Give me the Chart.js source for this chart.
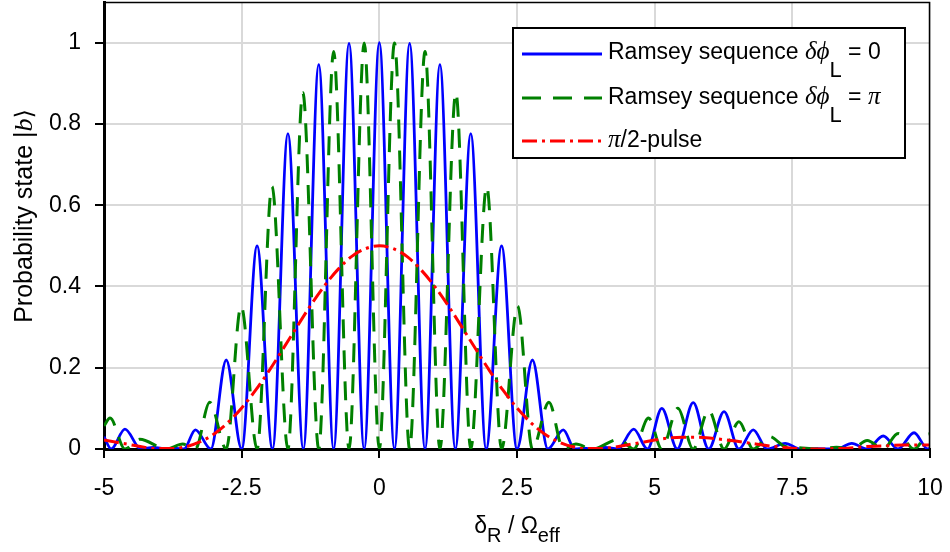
<!DOCTYPE html>
<html>
<head>
<meta charset="utf-8">
<script src="https://cdn.jsdelivr.net/npm/chart.js@4.4.1/dist/chart.umd.min.js"></script>
<style>
  html, body { margin: 0; padding: 0; background: #fff; }
</style>
</head>
<body>
<canvas id="chart" width="950" height="552"></canvas>
<script>
// detuning delta_R / Omega_eff and probability
const ramsey0X = [-5.00, -4.87, -4.62, -4.33, -4.10, -3.87, -3.72, -3.55, -3.34, -3.06, -2.78, -2.50, -2.22, -1.94, -1.66, -1.38, -1.10, -0.83, -0.55, -0.275, 0,
  0.275, 0.55, 0.83, 1.10, 1.38, 1.66, 1.94, 2.22, 2.50, 2.78, 3.06, 3.34, 3.55, 3.72, 3.87, 4.10, 4.33, 4.62, 4.87, 5.13,
  5.41, 5.70, 5.98, 6.26, 6.53, 6.79, 7.04, 7.37, 7.65, 7.94, 8.30, 8.58, 8.86, 9.15, 9.42, 9.71, 9.96, 10];
const ramsey0Y = [0.030, 0, 0.049, 0, 0.004, 0, 0.002, 0, 0.047, 0, 0.219, 0, 0.500, 0, 0.776, 0, 0.946, 0, 0.998, 0, 1.000,
  0, 0.998, 0, 0.946, 0, 0.776, 0, 0.500, 0, 0.219, 0, 0.047, 0, 0.002, 0, 0.004, 0, 0.049, 0, 0.100,
  0, 0.114, 0, 0.092, 0, 0.047, 0, 0.014, 0, 0.001, 0, 0.014, 0, 0.032, 0, 0.040, 0, 0.002];

const ramseyPiX = [-5.00, -4.89, -4.62, -4.35, -3.87, -3.57, -3.34, -3.08, -2.78, -2.51, -2.22, -1.95, -1.66, -1.39, -1.10, -0.83, -0.55, -0.275, 0,
  0.275, 0.55, 0.83, 1.10, 1.39, 1.66, 1.95, 2.22, 2.51, 2.78, 3.08, 3.34, 3.57, 3.87, 4.35, 4.62, 4.89, 5.13, 5.42, 5.70,
  5.98, 6.26, 6.53, 6.79, 7.08, 7.37, 7.62, 7.94, 8.30, 8.58, 8.86, 9.15, 9.42, 9.71, 9.98, 10];
const ramseyPiY = [0.057, 0.076, 0, 0.024, 0, 0.012, 0, 0.115, 0, 0.352, 0, 0.646, 0, 0.877, 0, 0.978, 0, 0.999, 0,
  0.999, 0, 0.978, 0, 0.877, 0, 0.646, 0, 0.352, 0, 0.115, 0, 0.012, 0, 0.024, 0, 0.076, 0, 0.100, 0,
  0.095, 0, 0.067, 0, 0.031, 0.006, 0.003, 0, 0.004, 0, 0.021, 0, 0.038, 0, 0.037, 0.036];

const pulseX = [-5, -4.75, -4.5, -4.25, -4, -3.75, -3.5, -3.25, -3, -2.75, -2.5, -2.25, -2, -1.75, -1.5, -1.25, -1, -0.75, -0.5, -0.25,
  0, 0.25, 0.5, 0.75, 1, 1.25, 1.5, 1.75, 2, 2.25, 2.5, 2.75, 3, 3.25, 3.5, 3.75, 4, 4.25, 4.5, 4.75,
  5, 5.25, 5.5, 5.75, 6, 6.25, 6.5, 6.75, 7, 7.25, 7.5, 7.75, 8, 8.25, 8.5, 8.75, 9, 9.25, 9.5, 9.75, 10];
const pulseY = [0.022, 0.016, 0.010, 0.004, 0.001, 0.001, 0.006, 0.018, 0.037, 0.065, 0.101, 0.144, 0.193, 0.246, 0.300, 0.353, 0.401, 0.442, 0.474, 0.493,
  0.500, 0.493, 0.474, 0.442, 0.401, 0.353, 0.300, 0.246, 0.193, 0.144, 0.101, 0.065, 0.037, 0.018, 0.006, 0.001, 0.001, 0.004, 0.010, 0.016,
  0.022, 0.027, 0.029, 0.029, 0.027, 0.023, 0.019, 0.014, 0.009, 0.005, 0.002, 0.000, 0.000, 0.001, 0.002, 0.005, 0.007, 0.008, 0.010, 0.010, 0.010];

const xTicks = [-5, -2.5, 0, 2.5, 5, 7.5, 10];
const xTickLabels = ['-5', '-2.5', '0', '2.5', '5', '7.5', '10'];
const yTicks = [0, 0.2, 0.4, 0.6, 0.8, 1];
const yTickLabels = ['0', '0.2', '0.4', '0.6', '0.8', '1'];

const SANS = '"Liberation Sans", Arial, sans-serif';
const SERIF_IT = 'italic 25px "Liberation Serif", "DejaVu Serif", serif';

function toPoints(xs, ys) {
  return xs.map((x, i) => ({ x: x, y: ys[i] }));
}

// draw a row of text pieces (font, vertical shift) starting at x
function drawRuns(ctx, runs, x, y, align) {
  let total = 0;
  runs.forEach(r => { ctx.font = r.font; total += ctx.measureText(r.text).width; });
  let cx = align === 'center' ? x - total / 2 : x;
  runs.forEach(r => {
    ctx.font = r.font;
    ctx.fillText(r.text, cx, y + (r.dy || 0));
    cx += ctx.measureText(r.text).width;
  });
}

const decorations = {
  id: 'decorations',
  afterDraw(chart) {
    const ctx = chart.ctx;
    const area = chart.chartArea;
    ctx.save();

    // top and right frame
    ctx.strokeStyle = '#000';
    ctx.lineWidth = 1.5;
    ctx.beginPath();
    ctx.moveTo(area.left, area.top + 0.5);
    ctx.lineTo(area.right - 0.5, area.top + 0.5);
    ctx.lineTo(area.right - 0.5, area.bottom);
    ctx.stroke();

    ctx.fillStyle = '#000';
    ctx.textAlign = 'left';
    ctx.textBaseline = 'alphabetic';

    // x axis title
    const main = '23px ' + SANS;
    const sub = '20px ' + SANS;
    drawRuns(ctx, [
      { text: 'δ', font: main },
      { text: 'R', font: sub, dy: 9 },
      { text: ' / ', font: main },
      { text: 'Ω', font: main },
      { text: 'eff', font: sub, dy: 9 }
    ], (area.left + area.right) / 2, 533, 'center');

    // y axis title
    ctx.save();
    ctx.translate(32, 216);
    ctx.rotate(-Math.PI / 2);
    drawRuns(ctx, [
      { text: 'Probability state |', font: '25px ' + SANS },
      { text: 'b', font: 'italic 26px "Liberation Serif", serif' },
      { text: '⟩', font: '24px "DejaVu Sans", sans-serif' }
    ], 0, 0, 'center');
    ctx.restore();

    // legend box
    const box = { x: 513, y: 28, w: 392, h: 130 };
    ctx.fillStyle = '#fff';
    ctx.fillRect(box.x, box.y, box.w, box.h);
    ctx.strokeStyle = '#000';
    ctx.lineWidth = 2;
    ctx.strokeRect(box.x, box.y, box.w, box.h);

    const rows = [
      { line: 54, base: 59, runs: [
        { text: 'Ramsey sequence ', font: main },
        { text: 'δϕ', font: SERIF_IT },
        { text: 'L', font: '22px ' + SANS, dy: 18 },
        { text: ' = 0', font: main }
      ] },
      { line: 98, base: 104, runs: [
        { text: 'Ramsey sequence ', font: main },
        { text: 'δϕ', font: SERIF_IT },
        { text: 'L', font: '22px ' + SANS, dy: 18 },
        { text: ' = ', font: main },
        { text: 'π', font: SERIF_IT }
      ] },
      { line: 141, base: 147, runs: [
        { text: 'π', font: SERIF_IT },
        { text: '/2-pulse', font: main }
      ] }
    ];
    [0, 1, 2].forEach(i => {
      const ds = chart.data.datasets[i];
      const row = rows[i];
      ctx.strokeStyle = ds.borderColor;
      ctx.lineWidth = ds.borderWidth;
      ctx.setLineDash(ds.borderDash || []);
      ctx.beginPath();
      ctx.moveTo(522, row.line);
      ctx.lineTo(602, row.line);
      ctx.stroke();
      ctx.setLineDash([]);
      ctx.fillStyle = '#000';
      drawRuns(ctx, row.runs, 608, row.base, 'left');
    });

    ctx.restore();
  }
};

const common = {
  pointRadius: 0,
  fill: false,
  cubicInterpolationMode: 'monotone',
  borderCapStyle: 'butt'
};

new Chart(document.getElementById('chart'), {
  type: 'line',
  data: {
    datasets: [
      Object.assign({
        label: 'Ramsey sequence δϕL = 0',
        data: toPoints(ramsey0X, ramsey0Y),
        borderColor: '#0000ff',
        borderWidth: 2.8,
        order: 3
      }, common),
      Object.assign({
        label: 'Ramsey sequence δϕL = π',
        data: toPoints(ramseyPiX, ramseyPiY),
        borderColor: '#008000',
        borderWidth: 3,
        borderDash: [19, 12],
        order: 2
      }, common),
      Object.assign({
        label: 'π/2-pulse',
        data: toPoints(pulseX, pulseY),
        borderColor: '#ff0000',
        borderWidth: 3,
        borderDash: [15, 5, 3, 5],
        order: 1
      }, common)
    ]
  },
  options: {
    responsive: false,
    animation: false,
    layout: { padding: { top: 2, right: 20, left: 0, bottom: 0 } },
    plugins: {
      legend: { display: false },
      tooltip: { enabled: false },
      title: { display: false }
    },
    scales: {
      x: {
        type: 'linear',
        min: -5,
        max: 10,
        afterBuildTicks: (scale) => { scale.ticks = xTicks.map(v => ({ value: v })); },
        afterFit: (scale) => { scale.height = 103; scale.paddingLeft = 0; scale.paddingRight = 0; },
        ticks: {
          autoSkip: false,
          maxRotation: 0,
          padding: 17,
          color: '#000',
          font: { family: SANS, size: 23 },
          callback: (value, index) => xTickLabels[index]
        },
        grid: { color: '#d9d9d9', lineWidth: 2, tickColor: '#000', tickWidth: 2, tickLength: 9 },
        border: { color: '#000', width: 3 }
      },
      y: {
        type: 'linear',
        min: 0,
        max: 1.1,
        afterBuildTicks: (scale) => { scale.ticks = yTicks.map(v => ({ value: v })); },
        afterFit: (scale) => { scale.width = 104; scale.paddingTop = 0; scale.paddingBottom = 0; },
        ticks: {
          autoSkip: false,
          padding: 14,
          color: '#000',
          font: { family: SANS, size: 23 },
          callback: (value, index) => yTickLabels[index]
        },
        grid: { color: '#d9d9d9', lineWidth: 2, tickColor: '#000', tickWidth: 2, tickLength: 9 },
        border: { color: '#000', width: 3 }
      }
    }
  },
  plugins: [decorations]
});
</script>
</body>
</html>
